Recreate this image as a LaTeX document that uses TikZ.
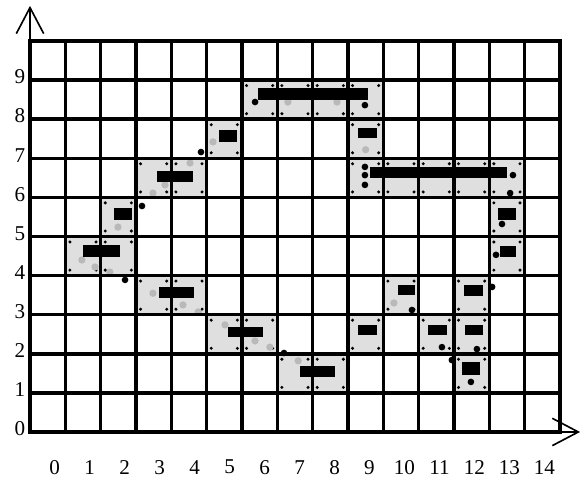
\documentclass[tikz,border=0pt]{standalone}
\usepackage{fontspec}
\setmainfont{Liberation Serif}
\usepackage{tikz}
\usetikzlibrary{arrows.meta}

\begin{document}
\begin{tikzpicture}[
  x=1.06cm,
  y=1.173cm,
  font=\fontsize{18}{21}\selectfont,
  gridline/.style={
    line width=3pt,
    line cap=rect,
    draw=black
  },
  cellfill/.style={
    fill=gray!25
  },
  speckle/.style={
    fill=gray!55
  },
  barmark/.style={
    fill=black
  },
  cornerdot/.style={
    fill=black
  },
  bigdot/.style={
    fill=black
  },
  axisline/.style={
    line width=1pt,
    -{Straight Barb[length=0.78cm,width=0.82cm,line width=1.4pt]}
  },
  ticklabel/.style={
    inner sep=0pt
  }
]
\useasboundingbox (-0.849,-1.228) rectangle (15.766,11.049);

% Occupied cells along the path
\foreach \i/\j in {1/4,2/4,2/5,3/3,4/3,3/6,4/6,5/7,6/8,7/8,8/8,9/8,9/7,
                   9/6,10/6,11/6,12/6,13/6,13/5,13/4,12/3,12/2,12/1,11/2,
                   10/3,9/2,5/2,6/2,7/1,8/1} {
  \fill[cellfill] (\i,\j) rectangle ++(1,1);
  \foreach \dx/\dy in {0.13/0.14,0.87/0.14,0.13/0.86,0.87/0.86}
    \fill[cornerdot] (\i+\dx,\j+\dy) circle[radius=0.05cm];
}

% Darker spots
\foreach \px/\py in {1.47/4.40, 1.84/4.22, 2.49/5.24, 2.26/4.09, 5.18/7.42,
    3.48/6.11, 3.82/6.32, 4.53/6.88, 3.48/3.55, 4.33/3.25, 4.76/3.07,
    5.52/2.74, 6.37/2.33, 6.79/2.17, 7.59/1.82, 10.30/3.30, 7.30/8.44,
    8.69/8.44, 9.50/7.22}
  \fill[speckle] (\px,\py) circle[radius=0.11cm];

% Bars
\foreach \xa/\ya/\xb/\yb in {1.50/4.48/2.55/4.78, 2.38/5.42/2.89/5.73,
    3.65/3.43/4.64/3.71, 3.59/6.39/4.61/6.68, 5.35/7.42/5.86/7.72,
    6.45/8.49/9.57/8.80, 9.28/7.52/9.82/7.77, 9.62/6.50/13.5/6.78,
    13.25/5.42/13.76/5.73, 13.3/4.48/13.76/4.76, 10.42/3.50/10.9/3.76,
    12.28/3.48/12.82/3.76, 11.27/2.48/11.8/2.74, 12.31/2.48/12.82/2.74,
    12.23/1.46/12.74/1.79, 9.28/2.48/9.82/2.74, 5.6/2.43/6.6/2.69,
    7.64/1.41/8.63/1.69}
  \fill[barmark] (\xa,\ya) rectangle (\xb,\yb);

% Large dots
\foreach \px/\py in {3.17/5.78, 4.84/7.16, 2.69/3.89, 7.19/2.02,
    6.37/8.44, 9.48/8.36, 9.48/6.78, 9.48/6.57, 9.48/6.32, 13.67/6.57,
    13.59/6.11, 13.36/5.32, 13.19/4.53, 10.81/3.12, 11.66/2.17,
    12.65/2.12, 11.94/1.84, 12.48/1.28, 13.08/3.71}
  \fill[bigdot] (\px,\py) circle[radius=0.1cm];

% Grid
\foreach \i in {0,...,15}
  \draw[gridline] (\i,0) -- (\i,10);
\foreach \j in {0,...,10}
  \draw[gridline] (0,\j) -- (15,\j);

% Axes
\coordinate (O) at (0,0);
\coordinate (xtip) at (15.57,0);
\coordinate (ytip) at (0,10.9);
\draw[axisline] (O) -- (xtip);
\draw[axisline] (O) -- (ytip);

% Tick labels
\foreach \i in {0,...,14}
  \node[ticklabel] (xl\i) at ({0.7+0.99*\i},-0.9) {\i};
\foreach \j in {0,...,9}
  \node[ticklabel, anchor=east] (yl\j) at (-0.13,\j+0.08) {\j};

\end{tikzpicture}
\end{document}
